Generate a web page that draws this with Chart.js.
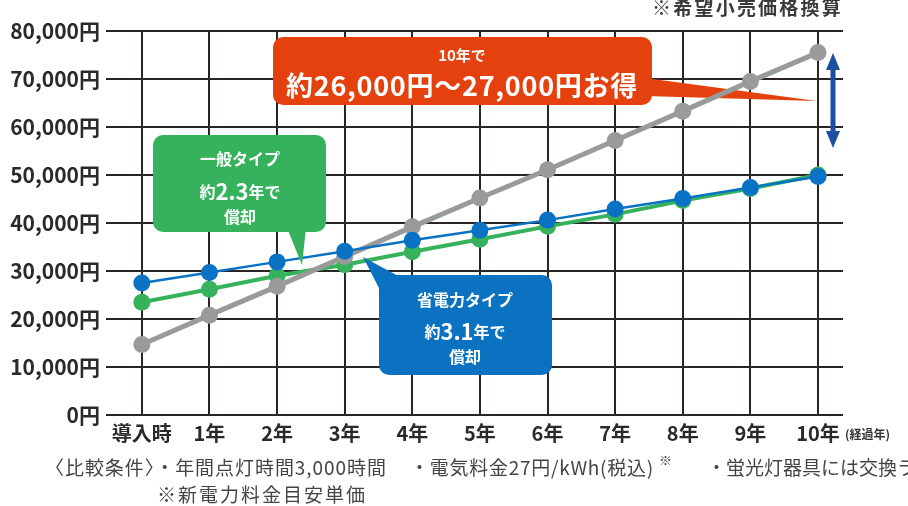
<!DOCTYPE html>
<html lang="ja">
<head>
<meta charset="utf-8">
<title>LED 償却比較</title>
<script src="https://cdn.jsdelivr.net/npm/chart.js@4/dist/chart.umd.min.js"></script>
<style>
    html, body { margin: 0; padding: 0; background: #fff; }
    #wrap { width: 908px; height: 506px; position: relative; }
</style>
</head>
<body>
<div id="wrap"><canvas id="chart" width="908" height="506"></canvas></div>
<script>
(function () {
    "use strict";

    // --- data ---
    const years   = [0, 1, 2, 3, 4, 5, 6, 7, 8, 9, 10];
    const xLabels = ["導入時", "1年", "2年", "3年", "4年", "5年", "6年", "7年", "8年", "9年", "10年"];
    const yTicks  = [0, 10000, 20000, 30000, 40000, 50000, 60000, 70000, 80000];

    const fluorescent = [14700, 20800, 26800, 33000, 39200, 45200, 51100, 57200, 63300, 69500, 75500]; // gray
    const ledGeneral  = [23500, 26200, 29000, 31300, 34000, 36600, 39300, 41800, 44700, 47200, 50000]; // green
    const ledSaving   = [27500, 29700, 31900, 34100, 36400, 38500, 40600, 42900, 45100, 47400, 49700]; // blue

    const FONT = "'Noto Sans CJK JP', 'Noto Sans', sans-serif";
    const GRID = "#2b2424";

    function pts(arr) {
        return years.map((x, i) => ({ x: x, y: arr[i] }));
    }

    function yen(v) {
        return v.toLocaleString("en-US") + "円";
    }

    // stretch / squeeze a string to a given width
    function fitText(ctx, text, x, y, w) {
        ctx.letterSpacing = "0px";
        const nat = ctx.measureText(text).width;
        const n = [...text].length;
        if (nat < w && n > 1) ctx.letterSpacing = ((w - nat) / n).toFixed(2) + "px";
        ctx.fillText(text, x, y, w);
        ctx.letterSpacing = "0px";
    }

    // mixed size text, centered on cx
    function richText(ctx, parts, cx, y) {
        let total = 0;
        parts.forEach(p => {
            ctx.font = `bold ${p[1]}px ${FONT}`;
            p.w = ctx.measureText(p[0]).width;
            total += p.w;
        });
        let x = cx - total / 2;
        ctx.textAlign = "left";
        parts.forEach(p => {
            ctx.font = `bold ${p[1]}px ${FONT}`;
            ctx.fillText(p[0], x, y);
            x += p.w;
        });
    }

    function box(ctx, color, x, y, w, h, pointer) {
        ctx.fillStyle = color;
        ctx.beginPath();
        ctx.roundRect(x, y, w, h, 10);
        ctx.fill();
        if (pointer) {
            ctx.beginPath();
            ctx.moveTo(pointer[0][0], pointer[0][1]);
            for (let i = 1; i < pointer.length; i++) ctx.lineTo(pointer[i][0], pointer[i][1]);
            ctx.closePath();
            ctx.fill();
        }
    }

    const annotations = {
        id: "annotations",
        beforeDatasetsDraw(chart) {
            const ctx = chart.ctx;
            ctx.save();
            // orange wedge pointing at 10年
            ctx.fillStyle = "#e4410f";
            ctx.beginPath();
            ctx.moveTo(645, 78);
            ctx.lineTo(817, 101);
            ctx.lineTo(645, 96);
            ctx.closePath();
            ctx.fill();
            ctx.restore();
        },
        afterDatasetsDraw(chart) {
            const ctx = chart.ctx;
            ctx.save();
            ctx.textBaseline = "middle";

            // orange callout
            box(ctx, "#e4410f", 273, 37, 379, 68);
            ctx.fillStyle = "#fff";
            ctx.textAlign = "center";
            ctx.font = `bold 15px ${FONT}`;
            ctx.fillText("10年で", 462, 55);
            ctx.font = `bold 27px ${FONT}`;
            ctx.textAlign = "left";
            fitText(ctx, "約26,000円〜27,000円お得", 286, 86, 352);

            // green callout
            box(ctx, "#37b25c", 153, 135, 173, 97, [[287, 228], [302, 265], [306, 228]]);
            ctx.fillStyle = "#fff";
            ctx.textAlign = "center";
            ctx.font = `bold 16px ${FONT}`;
            ctx.fillText("一般タイプ", 240, 159);
            richText(ctx, [["約", 16], ["2.3", 22], ["年で", 16]], 240, 192);
            ctx.textAlign = "center";
            ctx.font = `bold 16px ${FONT}`;
            ctx.fillText("償却", 240, 217);

            // blue callout
            box(ctx, "#0a72c0", 379, 275, 173, 100, [[363, 257], [381, 292], [402, 278]]);
            ctx.fillStyle = "#fff";
            ctx.textAlign = "center";
            ctx.font = `bold 16px ${FONT}`;
            ctx.fillText("省電力タイプ", 465, 300);
            richText(ctx, [["約", 16], ["3.1", 22], ["年で", 16]], 465, 332);
            ctx.textAlign = "center";
            ctx.font = `bold 16px ${FONT}`;
            ctx.fillText("償却", 465, 357);

            // double-headed arrow
            const ax = 833, top = 53, bot = 148;
            ctx.fillStyle = "#1d4f9e";
            ctx.fillRect(ax - 2.5, top + 14, 5, bot - top - 28);
            ctx.beginPath();
            ctx.moveTo(ax, top);
            ctx.lineTo(ax + 7, top + 17);
            ctx.lineTo(ax - 7, top + 17);
            ctx.closePath();
            ctx.fill();
            ctx.beginPath();
            ctx.moveTo(ax, bot);
            ctx.lineTo(ax + 7, bot - 17);
            ctx.lineTo(ax - 7, bot - 17);
            ctx.closePath();
            ctx.fill();
            ctx.restore();
        },
        afterDraw(chart) {
            const ctx = chart.ctx;
            ctx.save();
            ctx.textBaseline = "middle";
            ctx.textAlign = "left";

            // top-right note
            ctx.fillStyle = "#3a3a3a";
            ctx.font = `bold 19px ${FONT}`;
            fitText(ctx, "※希望小売価格換算", 652, 8, 191);

            // unit after the last x label
            ctx.font = `bold 12px ${FONT}`;
            ctx.fillStyle = "#333";
            ctx.fillText("(経過年)", 845, 434);

            // conditions under the chart
            ctx.fillStyle = "#444";
            ctx.font = `19px ${FONT}`;
            fitText(ctx, "〈比較条件〉・年間点灯時間3,000時間", 45, 468, 342);
            fitText(ctx, "・電気料金27円/kWh(税込)", 410, 468, 244);
            ctx.fillText("・蛍光灯器具には交換ランプ代を含む", 707, 468);
            ctx.font = `13px ${FONT}`;
            ctx.fillText("※", 659, 460);
            ctx.font = `19px ${FONT}`;
            fitText(ctx, "※新電力料金目安単価", 157, 495, 210);
            ctx.restore();
        }
    };

    function lineSet(label, data, color, width, order) {
        return {
            label,
            data: pts(data),
            borderColor: color,
            backgroundColor: color,
            pointBackgroundColor: color,
            pointBorderWidth: 0,
            pointRadius: 8.5,
            pointHoverRadius: 8.5,
            borderWidth: width,
            tension: 0,
            order
        };
    }

    function init() {
        const ctx = document.getElementById("chart").getContext("2d");
        new Chart(ctx, {
            type: "line",
            data: {
                datasets: [
                    lineSet("省電力タイプ", ledSaving, "#0a72c4", 2.5, 1),
                    lineSet("蛍光灯", fluorescent, "#999a9a", 5, 2),
                    lineSet("一般タイプ", ledGeneral, "#37b25c", 4, 3)
                ]
            },
            options: {
                responsive: false,
                animation: false,
                layout: { padding: { top: 31, right: 65, left: 0, bottom: 0 } },
                plugins: {
                    legend: { display: false },
                    tooltip: { enabled: false }
                },
                scales: {
                    x: {
                        type: "linear",
                        min: -0.53,
                        max: 10.37,
                        afterBuildTicks: s => { s.ticks = years.map(v => ({ value: v })); },
                        afterFit: s => { s.height = 91; },
                        border: { display: false },
                        grid: { color: GRID, lineWidth: 2, drawTicks: false },
                        ticks: {
                            autoSkip: false,
                            maxRotation: 0,
                            padding: 6,
                            color: "#2a2a2a",
                            font: { family: FONT, size: 20, weight: "bold" },
                            callback: v => xLabels[v]
                        }
                    },
                    y: {
                        min: 0,
                        max: 80000,
                        afterBuildTicks: s => { s.ticks = yTicks.map(v => ({ value: v })); },
                        afterFit: s => { s.width = 106; },
                        border: { display: false },
                        grid: { color: GRID, lineWidth: 2, drawTicks: false },
                        ticks: {
                            padding: 6,
                            color: "#2a2a2a",
                            font: { family: FONT, size: 21, weight: "bold" },
                            callback: v => yen(v)
                        }
                    }
                }
            },
            plugins: [annotations]
        });
    }

    if (document.readyState === "loading") {
        document.addEventListener("DOMContentLoaded", init);
    } else {
        init();
    }
})();
</script>
</body>
</html>
